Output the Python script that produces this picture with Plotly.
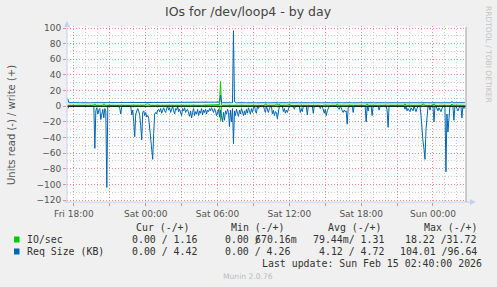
import plotly.graph_objects as go
import pandas as pd

# ---------------- data (5-minute samples, Fri 17:30 -> Sun 02:40) ----------------
start_time = "2026-02-13 17:30"
sample_step = "5min"

# Req Size (KB), read side (drawn as negative)
read_kb = [
    3,0,0,0,0,0,0,0,0,0, 0,0,0,0,0,0,0,0,0,0,
    0,0,0,0,0,0,0,54,6,2, 10,5,3,17,10,4,15,3,6,104,
    0,0,0,0,0,0,0,0,0,0, 0,0,3,10,0,0,0,0,0,0,
    0,0,0,0,11,5,20,39,10,6, 3,6,12,25,43,8,6,12,8,14,
    12,15,30,45,60,68,35,10,8,10, 5,4,7,3,9,4,2,6,8,3,
    0,5,2,8,4,0,6,10,3,5, 0,7,4,9,12,3,6,2,8,5,
    4,9,13,6,15,8,3,12,7,10, 4,12,6,9,3,11,5,8,4,10,
    5,7,3,6,2,5,8,3,6,12, 9,4,14,5,12,20,8,18,6,10,
    4,8,26,5,20,3,48,6,12,4, 9,13,5,10,3,8,12,6,11,4,
    9,2,7,10,3,8,2,0,6,9, 0,3,0,0,0,0,0,4,8,0,
    6,8,3,0,0,10,5,12,7,8, 16,4,0,0,0,0,7,3,9,5,
    8,2,0,0,0,0,0,4,0,0, 0,0,0,8,3,7,0,0,0,0,
    11,0,0,0,0,0,9,0,0,0, 0,0,0,3,0,0,5,9,4,12,
    6,3,0,0,0,0,0,0,0,0, 0,3,4,0,2,6,8,5,7,6,
    23,2,0,0,0,0,8,0,0,0, 0,0,0,0,0,0,0,0,0,20,
    0,6,0,0,0,12,0,0,0,0, 0,0,5,0,0,0,0,0,0,0,
    5,27,0,0,0,0,0,0,0,0, 0,0,0,0,0,0,0,0,4,0,
    6,3,5,7,2,4,6,0,5,7, 3,0,0,0,12,35,45,55,68,30,
    8,0,0,5,0,0,0,20,0,0, 4,6,2,5,7,3,0,0,0,84,
    10,33,8,0,0,0,0,18,0,0, 4,6,3,0,0,15,0,3,0,
]

# Req Size (KB), write side
write_kb = [
    9.0,4.4,4.5,4.4,4.3,4.4,4.5,4.4,4.4,4.3, 4.4,4.5,4.4,4.4,4.3,4.4,4.5,4.4,4.4,4.4,
    4.5,4.4,4.3,4.4,4.4,4.5,4.4,4.4,4.6,4.4, 4.3,4.4,4.5,4.4,4.4,4.3,4.4,4.5,4.4,4.4,
    4.4,4.3,4.4,4.5,4.4,4.4,4.4,4.3,4.5,4.4, 4.4,4.4,4.3,4.4,4.5,4.4,4.4,4.3,4.4,4.4,
    4.5,4.4,4.4,4.3,4.4,4.5,4.4,4.4,4.4,4.3, 4.4,4.5,4.4,4.4,4.3,4.4,4.4,4.5,4.4,4.4,
    4.6,4.5,4.4,4.4,4.3,4.4,4.5,4.4,4.4,4.3, 4.4,4.4,4.5,4.4,4.4,4.3,4.4,4.5,4.4,4.4,
    4.4,4.3,4.4,4.5,4.4,4.4,4.3,4.4,4.5,4.4, 4.4,4.4,4.3,4.4,4.5,4.4,4.4,4.3,4.4,4.5,
    4.4,4.4,4.3,4.4,4.5,4.4,4.4,4.3,4.4,4.5, 4.4,4.4,4.3,4.4,4.4,4.5,4.4,4.3,4.4,4.4,
    4.5,4.4,4.4,4.3,4.4,4.5,4.4,4.4,4.3,4.4, 4.5,4.4,5.2,14.0,5.0,4.4,4.3,4.4,4.5,4.4,
    4.4,4.3,4.4,4.5,4.4,4.4,96.6,6.0,4.4,4.3, 4.4,4.5,4.4,4.4,4.3,4.4,4.5,4.4,4.4,4.3,
    4.4,4.5,4.4,4.4,4.3,4.4,4.5,4.4,4.4,4.3, 4.4,4.4,4.5,4.4,4.4,4.3,4.4,4.5,4.4,4.4,
    4.3,4.4,4.5,4.4,4.4,4.3,4.4,4.5,4.4,4.4, 4.4,4.3,4.4,4.5,4.4,4.4,4.3,4.4,4.5,4.4,
    4.4,4.4,4.3,4.4,4.5,4.4,4.4,4.3,4.4,4.5, 4.4,4.4,4.3,4.4,4.4,4.5,4.4,4.3,4.4,4.4,
    4.5,4.4,4.4,4.3,4.4,4.5,4.4,4.4,4.3,4.4, 4.4,4.5,4.4,4.4,4.3,4.4,4.5,4.4,4.4,4.3,
    4.4,4.5,4.4,4.4,4.3,4.4,4.4,4.5,4.4,4.3, 4.4,4.4,4.5,4.4,4.4,4.3,4.4,4.5,4.4,4.4,
    4.3,4.4,4.5,4.4,4.4,4.3,4.4,4.4,4.5,4.4, 4.4,4.3,4.4,4.5,4.4,4.4,4.3,4.4,4.4,4.5,
    4.4,4.4,4.3,4.4,4.5,4.4,4.4,4.3,4.4,4.4, 4.5,4.4,4.4,4.3,4.4,4.5,4.4,4.4,4.3,4.4,
    4.4,4.5,4.4,4.4,4.3,4.4,4.5,4.4,4.4,4.3, 4.4,4.4,4.5,4.4,4.4,4.3,4.4,4.5,4.4,4.4,
    4.3,4.4,4.4,4.5,4.4,4.4,4.3,4.4,4.5,4.4, 4.4,4.3,4.4,4.4,4.5,4.4,4.4,4.3,4.4,4.5,
    4.4,4.4,4.3,4.4,4.5,4.4,4.4,4.3,4.4,4.4, 4.5,4.4,4.4,4.3,4.4,4.5,4.4,4.4,4.3,4.4,
    4.4,4.5,4.4,4.4,4.3,6.2,4.4,4.4,4.5,4.4, 4.3,4.4,4.4,4.5,4.4,4.4,4.3,4.4,4.42,
]

# IO/sec, read side (drawn as negative)
read_io = [
    0.1,0,0,0,0,0,0,0,0,0, 0,0,0,0,0,0,0,0,0,0,
    0,0,0,0,0,0,0,0.4,0,0, 0.1,0,0,0.2,0.1,0,0.2,0,0,0.5,
    0,0,0,0,0,0,0,0,0,0, 0,0,0,0.1,0,0,0,0,0,0,
    0,0,0,0,0.1,0,0.2,0.3,0.1,0, 0,0,0.1,0.2,0.3,0,0,0.1,0,0.1,
    0.1,0.1,0.2,0.3,0.4,0.4,0.2,0.1,0,0.1, 0,0,0,0,0.1,0,0,0,0,0,
    0,0,0,0.1,0,0,0,0.1,0,0, 0,0,0,0.1,0.1,0,0,0,0,0,
    0,0.1,0.1,0,0.1,0,0,0.1,0,0.1, 0,0.1,0,0,0,0.1,0,0,0,0.1,
    0,0,0,0,0,0,0,0,0,0.1, 0,0,0.1,18.2,0.1,0.2,0,0.2,0,0.1,
    0,0,0.2,0,0.2,0,0.4,0,0.1,0, 0,0.1,0,0.1,0,0,0.1,0,0.1,0,
    0.1,0,0,0.1,0,0,0,0,0,0, 0,0,0,0,0,0,0,0,0.1,0,
    0,0.1,0,0,0,0.1,0,0.1,0,0, 0.2,0,0,0,0,0,0,0,0.1,0,
    0.1,0,0,0,0,0,0,0,0,0, 0,0,0,0.1,0,0,0,0,0,0,
    0.1,0,0,0,0,0,0.1,0,0,0, 0,0,0,0,0,0,0,0.1,0,0.1,
    0,0,0,0,0,0,0,0,0,0, 0,0,0,0,0,0,0.1,0,0,0,
    0.2,0,0,0,0,0,0.1,0,0,0, 0,0,0,0,0,0,0,0,0,0.2,
    0,0,0,0,0,0.1,0,0,0,0, 0,0,0,0,0,0,0,0,0,0,
    0,0.2,0,0,0,0,0,0,0,0, 0,0,0,0,0,0,0,0,0,0,
    0,0,0,0.1,0,0,0,0,0,0.1, 0,0,0,0,0.1,0.3,0.3,0.4,0.4,0.2,
    0,0,0,0,0,0,0,0.2,0,0, 0,0,0,0,0.1,0,0,0,0,0.5,
    0,0.3,0,0,0,0,0,0.2,0,0, 0,0,0,0,0,0.1,0,0,0,
]

# IO/sec, write side
write_io = [
    1.3,1.2,1.3,1.4,1.3,1.2,1.3,1.3,1.2,1.4, 1.3,1.3,1.2,1.3,1.4,1.3,1.2,1.3,1.3,1.2,
    1.3,1.4,1.3,1.2,1.3,1.3,1.4,3.0,1.3,1.2, 1.3,1.4,1.3,1.2,1.3,1.3,3.0,1.3,1.2,1.3,
    1.4,1.3,1.2,1.3,1.3,1.4,1.3,1.2,1.3,1.3, 1.4,1.3,1.2,1.3,1.3,1.4,1.3,1.2,1.3,1.3,
    1.3,1.2,1.4,1.3,1.3,1.2,1.3,1.4,1.3,1.3, 1.2,1.3,1.4,1.3,1.2,1.3,1.3,1.4,2.6,3.0,
    3.0,2.6,1.3,1.2,1.3,1.4,1.3,1.3,1.2,1.3, 1.4,1.3,1.2,1.3,1.3,1.4,1.3,1.2,1.3,1.3,
    1.4,1.3,1.2,1.3,1.3,1.4,1.3,1.2,1.3,1.3, 1.4,1.3,1.2,1.3,1.3,1.4,1.3,1.2,1.3,1.3,
    1.2,1.3,1.4,1.3,1.3,1.2,1.3,1.4,1.3,1.2, 1.3,1.3,1.4,1.3,1.2,1.3,1.3,1.4,1.3,1.2,
    1.3,1.3,1.4,1.3,1.2,1.3,1.3,1.4,1.3,1.2, 1.3,1.3,2.0,31.7,2.0,1.3,1.2,1.3,1.4,1.3,
    1.3,1.2,1.3,1.4,1.3,1.3,1.5,1.3,1.2,1.3, 1.4,1.3,1.3,1.2,1.3,1.4,1.3,1.2,1.3,1.3,
    1.4,1.3,1.2,1.3,1.3,1.4,1.3,1.2,1.3,1.3, 1.4,1.3,1.2,1.3,1.3,1.4,1.3,1.2,3.0,2.8,
    1.3,1.2,1.3,1.4,1.3,1.3,1.2,1.3,1.4,2.8, 3.0,1.3,2.8,1.3,1.2,1.3,1.4,1.3,1.3,1.2,
    1.3,1.4,3.0,1.3,1.2,1.3,1.3,1.4,1.3,1.2, 1.3,1.3,1.4,1.3,1.2,1.3,1.3,1.4,1.3,1.2,
    1.3,1.3,1.4,1.3,1.2,1.3,1.3,1.4,1.3,1.2, 1.3,1.3,1.4,1.3,0.7,1.3,1.3,1.4,1.3,1.2,
    1.3,1.3,1.4,1.3,1.2,1.3,1.3,1.4,1.3,1.2, 3.0,1.3,1.4,1.3,1.2,1.3,1.3,1.4,1.3,1.2,
    1.3,1.3,1.4,1.3,1.2,1.3,1.3,1.4,1.3,1.2, 1.3,1.3,1.4,1.3,1.2,1.3,1.3,1.4,1.3,1.2,
    3.0,1.3,1.4,1.3,1.2,1.3,1.3,1.4,1.3,1.2, 1.3,1.3,1.4,1.3,1.2,1.3,1.3,1.4,1.3,1.2,
    1.3,1.3,1.4,1.3,1.2,1.3,1.3,1.4,1.3,1.2, 1.3,1.3,1.4,1.3,1.2,1.3,1.3,1.4,3.0,1.2,
    1.3,1.3,1.4,1.3,1.2,1.3,1.3,1.4,1.3,1.2, 1.3,1.3,1.4,1.3,1.2,1.3,3.0,1.4,1.3,1.2,
    1.3,1.3,1.4,1.3,1.2,1.3,1.3,3.0,1.3,1.2, 1.3,1.3,1.4,1.3,1.2,1.3,1.3,1.4,1.3,1.2,
    1.3,1.3,1.4,1.3,1.2,3.0,1.3,1.4,1.3,1.2, 1.3,1.3,1.4,1.3,1.2,1.3,1.3,1.4,1.16,
]

x_tick_labels_hidden = ["Fri 21:00", "Sat 03:00", "Sat 09:00", "Sat 15:00", "Sat 21:00", "Sun 03:00"]

legend_header = ["Cur (-/+)", "Min (-/+)", "Avg (-/+)", "Max (-/+)"]
legend_rows = [
    ("IO/sec", "#00CC00", ["0.00 / 1.16", "0.00 /", "79.44m/ 1.31", "18.22 /31.72"]),
    ("Req Size (KB)", "#0066B3", ["0.00 / 4.42", "0.00 / 4.26", "4.12 / 4.72", "104.01 /96.64"]),
]
min_overlay_text = "670.16m"
last_update = "Last update: Sun Feb 15 02:40:00 2026"

# ---------------- figure geometry ----------------
W, H = 497, 287
L, R, T, B = 67, 466, 26, 202


def px(x):
    return (x - L) / (R - L)


def py(y):
    return (B - y) / (B - T)


n = len(read_kb)
times = pd.date_range(start_time, periods=n, freq=sample_step)

GREEN = "#00CC00"
BLUE = "#0066B3"

fig = go.Figure()
fig.add_trace(go.Scatter(x=times, y=[-v for v in read_io[:n]], mode="lines",
                         line=dict(color=GREEN, width=1), hoverinfo="skip"))
fig.add_trace(go.Scatter(x=times, y=write_io[:n], mode="lines",
                         line=dict(color=GREEN, width=1), hoverinfo="skip"))
fig.add_trace(go.Scatter(x=times, y=[-v for v in read_kb], mode="lines",
                         line=dict(color=BLUE, width=1), hoverinfo="skip"))
fig.add_trace(go.Scatter(x=times, y=write_kb[:n], mode="lines",
                         line=dict(color=BLUE, width=1), hoverinfo="skip"))

MAJOR = "rgba(230,120,120,0.8)"
MINOR = "rgba(190,190,190,0.8)"
DASH = "1px,2px"
TICKFONT = dict(family="DejaVu Sans", size=9, color="#555555")

fig.update_layout(
    width=W, height=H,
    margin=dict(l=L, r=W - R, t=T, b=H - B, pad=0),
    paper_bgcolor="#F0F0F0", plot_bgcolor="#FFFFFF",
    showlegend=False,
    xaxis=dict(
        type="date",
        range=["2026-02-13 17:25:30", "2026-02-15 02:45:30"],
        tickmode="linear", tick0="2026-02-13 18:00", dtick=3 * 3600 * 1000,
        tickformat="%a %H:%M",
        labelalias={k: " " for k in x_tick_labels_hidden},
        showgrid=True, gridcolor=MAJOR, griddash=DASH, gridwidth=1,
        minor=dict(dtick=3600 * 1000, tick0="2026-02-13 18:00", showgrid=True,
                   gridcolor=MINOR, griddash=DASH, gridwidth=1, ticks=""),
        ticks="outside", ticklen=3, tickcolor=MAJOR, tickwidth=1,
        tickfont=TICKFONT, showline=False, zeroline=False, fixedrange=True,
    ),
    yaxis=dict(
        range=[-122.54, 102.58],
        tickmode="linear", tick0=0, dtick=20,
        showgrid=True, gridcolor=MAJOR, griddash=DASH, gridwidth=1,
        minor=dict(dtick=10, tick0=0, showgrid=True,
                   gridcolor=MINOR, griddash=DASH, gridwidth=1, ticks=""),
        ticks="outside", ticklen=3, tickcolor=MAJOR, tickwidth=1,
        tickfont=TICKFONT, showline=False, zeroline=False, fixedrange=True,
    ),
)

AXIS = "#C8CEF2"
shapes = [
    # zero rule
    dict(type="line", xref="paper", yref="y", x0=0, x1=1, y0=0, y1=0,
         line=dict(color="#000000", width=1), layer="above"),
    # left axis + arrow
    dict(type="line", xref="paper", yref="paper", x0=0, x1=0, y0=py(203), y1=py(24),
         line=dict(color=AXIS, width=1), layer="above"),
    dict(type="path", xref="paper", yref="paper",
         path=f"M {px(64)},{py(27)} L {px(67)},{py(21)} L {px(70)},{py(27)} Z",
         fillcolor=AXIS, line=dict(color=AXIS, width=0), layer="above"),
    # bottom axis + arrow
    dict(type="line", xref="paper", yref="paper", x0=px(64), x1=px(471), y0=0, y1=0,
         line=dict(color=AXIS, width=1), layer="above"),
    dict(type="path", xref="paper", yref="paper",
         path=f"M {px(470)},{py(199)} L {px(476)},{py(202)} L {px(470)},{py(205)} Z",
         fillcolor=AXIS, line=dict(color=AXIS, width=0), layer="above"),
    # right frame
    dict(type="line", xref="paper", yref="paper", x0=1, x1=1, y0=0, y1=py(27),
         line=dict(color="#A0A0A0", width=1), layer="above"),
]
for i, (name, color, vals) in enumerate(legend_rows):
    yc = 239.5 + 12 * i
    shapes.append(dict(type="rect", xref="paper", yref="paper",
                       x0=px(14), x1=px(19.5), y0=py(yc - 3), y1=py(yc + 3),
                       fillcolor=color, line=dict(width=0)))
fig.update_layout(shapes=shapes)

MONO = "DejaVu Sans Mono"
TXT = "#333333"


def ann(text, x, y, size, family="DejaVu Sans", color=TXT, xanchor="left", angle=0):
    fig.add_annotation(text=text, x=px(x), y=py(y), xref="paper", yref="paper",
                       showarrow=False, xanchor=xanchor, yanchor="middle",
                       textangle=angle, borderpad=0,
                       font=dict(family=family, size=size, color=color))


ann("IOs for /dev/loop4 - by day", 248.5, 12, 12.5, color="#444444", xanchor="center")
ann("Units read (-) / write (+)", 11, 125, 10, color="#555555", xanchor="center", angle=-90)
ann("RRDTOOL / TOBI OETIKER", 488, 54, 7.5, color="#C4C4C4", xanchor="center", angle=90)

header_x = [135, 230, 326.7, 423.3]
for text, x in zip(legend_header, header_x):
    ann(text, x, 227.5, 9.9, family=MONO)

col_x = [[131, 224, 311.7, 404.3], [131, 224, 317.7, 399]]
for i, (name, color, vals) in enumerate(legend_rows):
    yc = 239.5 + 12 * i
    ann(name, 26, yc, 9.9, family=MONO)
    for text, x in zip(vals, col_x[i]):
        ann(text, x, yc, 9.9, family=MONO)
ann(min_overlay_text, 224 + 5 * 5.95, 239.5, 9.9, family=MONO)

ann(last_update, 482.5, 263.5, 9.9, family=MONO, xanchor="right")
ann("Munin 2.0.76", 248, 276, 7.6, color="#BBBBBB", xanchor="center")

fig.write_html("out.html")
